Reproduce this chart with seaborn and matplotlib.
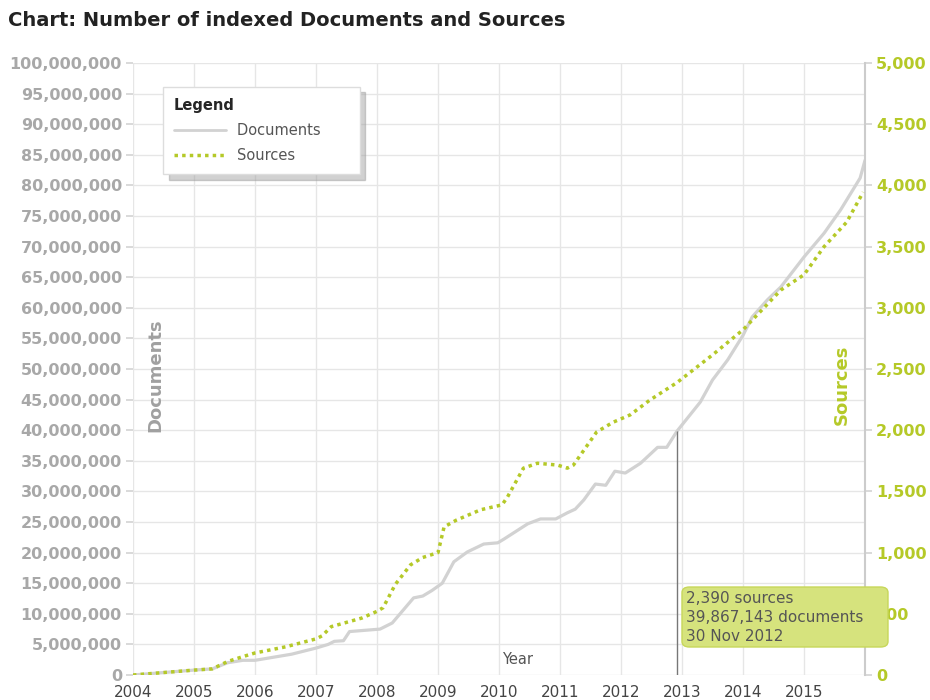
import matplotlib
matplotlib.use("Agg")
import matplotlib.pyplot as plt
import matplotlib.ticker as mticker
from matplotlib.lines import Line2D
from matplotlib.patches import FancyBboxPatch
import pandas as pd
import seaborn as sns

# Indexed documents (millions)
doc_years = [2004.0, 2004.5, 2005.0, 2005.3, 2005.55, 2005.8, 2006.0, 2006.3, 2006.6, 2007.0,
             2007.2, 2007.3, 2007.45, 2007.55, 2007.8, 2008.05, 2008.25, 2008.6, 2008.75, 2008.9,
             2009.07, 2009.26, 2009.48, 2009.75, 2009.98, 2010.08, 2010.47, 2010.68, 2010.93, 2011.12,
             2011.25, 2011.39, 2011.58, 2011.75, 2011.9, 2012.07, 2012.32, 2012.6, 2012.75, 2012.92,
             2013.3, 2013.5, 2013.75, 2014.0, 2014.15, 2014.4, 2014.62, 2015.0, 2015.33, 2015.6,
             2015.92, 2016.0]
docs_m = [0, 0.4, 0.8, 1.0, 2.0, 2.4, 2.4, 2.9, 3.4, 4.4,
          5.0, 5.5, 5.6, 7.1, 7.3, 7.5, 8.5, 12.6, 12.9, 13.8,
          15.0, 18.5, 20.1, 21.4, 21.6, 22.2, 24.7, 25.5, 25.5, 26.5,
          27.1, 28.6, 31.2, 31.0, 33.3, 33.0, 34.6, 37.2, 37.2, 39.867143,
          44.6, 48.2, 51.5, 55.5, 58.5, 61.3, 63.4, 68.3, 72.2, 76.0,
          81.2, 84.1]

# Number of sources
src_years = [2004.0, 2004.5, 2005.0, 2005.3, 2005.55, 2005.8, 2006.0, 2006.5, 2007.0, 2007.1,
             2007.25, 2007.5, 2007.75, 2008.0, 2008.1, 2008.3, 2008.55, 2008.75, 2009.0, 2009.1,
             2009.3, 2009.7, 2010.05, 2010.14, 2010.4, 2010.63, 2010.96, 2011.12, 2011.22, 2011.6,
             2011.87, 2012.15, 2012.47, 2012.92, 2013.5, 2014.0, 2014.62, 2015.0, 2015.33, 2015.7,
             2015.97]
sources = [0, 20, 40, 50, 110, 150, 180, 230, 295, 320,
           395, 430, 465, 520, 550, 740, 900, 960, 1000, 1210,
           1265, 1350, 1390, 1455, 1690, 1730, 1715, 1690, 1715, 1985,
           2065, 2125, 2245, 2390, 2615, 2820, 3145, 3270, 3500, 3700,
           3945]

year_ticks = list(range(2004, 2016))
tooltip_year = 2012.92
tooltip_docs = 39867143
tooltip_lines = ["2,390 sources", "39,867,143 documents", "30 Nov 2012"]

docs = pd.DataFrame({"year": doc_years, "documents": [v * 1e6 for v in docs_m]})
srcs = pd.DataFrame({"year": src_years, "sources": sources})

GREEN = "#b5c928"
GRAY_LINE = "#d2d2d2"

sns.set_theme(style="whitegrid")
plt.rcParams["font.family"] = ["DejaVu Sans"]

fig = plt.figure(figsize=(9.3, 7), dpi=100)
ax = fig.add_axes([133 / 930, 25 / 700, 732 / 930, 612 / 700])
ax2 = ax.twinx()

sns.lineplot(data=docs, x="year", y="documents", ax=ax, color=GRAY_LINE, lw=2.3, zorder=3)
sns.lineplot(data=srcs, x="year", y="sources", ax=ax2, color=GREEN, lw=2.5,
             linestyle=(0, (1, 1.2)), zorder=3)

# cursor line at the hovered point
ax.vlines(tooltip_year, 0, tooltip_docs, color="#777777", lw=1, zorder=4)

ax.set_xlim(2004, 2016)
ax.set_ylim(0, 100e6)
ax2.set_ylim(0, 5000)
ax.set_xticks(year_ticks)
ax.yaxis.set_major_locator(mticker.MultipleLocator(5e6))
ax2.yaxis.set_major_locator(mticker.MultipleLocator(500))
fmt = mticker.FuncFormatter(lambda v, p: f"{int(v):,}")
ax.yaxis.set_major_formatter(fmt)
ax2.yaxis.set_major_formatter(fmt)

ax.grid(True, color="#e6e6e6", lw=1)
ax2.grid(False)
ax.set_facecolor("none")
for s in ax.spines.values():
    s.set_visible(False)
for s in ax2.spines.values():
    s.set_visible(False)
ax2.spines["right"].set_visible(True)
ax2.spines["right"].set_color("#cccccc")
ax2.spines["right"].set_linewidth(1.5)

ax.tick_params(axis="y", labelsize=11.5, labelcolor="#a8a8a8", length=5, color="#d5d5d5", pad=3)
ax.tick_params(axis="x", labelsize=11, labelcolor="#444444", length=5, color="#d5d5d5", pad=2)
ax2.tick_params(axis="y", labelsize=11.5, labelcolor=GREEN, length=5, color="#d5d5d5", pad=3)
for t in ax.get_yticklabels():
    t.set_fontweight("bold")
for t in ax2.get_yticklabels():
    t.set_fontweight("bold")

ax.set_xlabel("")
ax.set_ylabel("")
ax2.set_ylabel("")

ax.text(0.030, 0.49, "Documents", transform=ax.transAxes, rotation=90, ha="center", va="center",
        fontsize=13, fontweight="bold", color="#a0a0a0")
ax.text(0.9686, 0.474, "Sources", transform=ax.transAxes, rotation=90, ha="center", va="center",
        fontsize=13, fontweight="bold", color=GREEN)
ax.text(0.525, 0.025, "Year", transform=ax.transAxes, ha="center", va="center",
        fontsize=10.5, color="#555555")

handles = [Line2D([], [], color=GRAY_LINE, lw=2),
           Line2D([], [], color=GREEN, lw=2.5, linestyle=(0, (1, 1.2)))]
leg = ax2.legend(handles, ["Documents      ", "Sources"], title="Legend", loc="upper left",
                 bbox_to_anchor=(0.041, 0.961), borderaxespad=0, fontsize=10.5,
                 title_fontproperties={"weight": "bold", "size": 10.5},
                 alignment="left", frameon=True, fancybox=False,
                 shadow={"ox": 4, "oy": -4, "color": "#999999", "alpha": 0.45},
                 handlelength=3.6, handletextpad=0.75, borderpad=0.75, labelspacing=0.7)
leg.get_frame().set_edgecolor("#dddddd")
leg.get_frame().set_facecolor("white")
leg.get_frame().set_alpha(1)
for t in leg.get_texts():
    t.set_color("#555555")

fig.text(8 / 930, 1 - 20 / 700, "Chart: Number of indexed Documents and Sources",
         fontsize=14, fontweight="bold", color="#222222", va="center", ha="left")

# tooltip box
box = FancyBboxPatch((682 / 930, 1 - 647 / 700), 206 / 930, 60 / 700,
                     boxstyle="round,pad=0,rounding_size=0.008", transform=fig.transFigure,
                     facecolor="#d6e37d", edgecolor="#c7d75a", lw=1, zorder=10)
fig.patches.append(box)
fig.text(686 / 930, 1 - 591 / 700, "\n".join(tooltip_lines), fontsize=11, color="#555555",
         va="top", ha="left", linespacing=1.32, zorder=11)

fig.savefig("out.png", dpi=100, facecolor="white")
